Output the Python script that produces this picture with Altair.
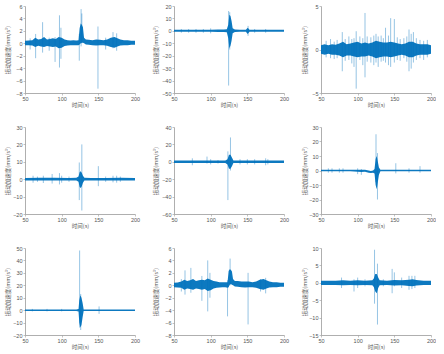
import altair as alt
import pandas as pd

BLUE = "#0072BD"
XLABEL = "时间(s)"
YLABEL = "振动加速度(mm/s²)"

# ---------- Panel 1 ----------
p1_t = [50,55,60,64,68,72,76,80,84,88,92,96,100,104,108,112,116,120,123,124.5,126,127.5,129,130.5,133,137,142,147,152,157,162,167,172,176,180,185,190,195,200]
p1_hi = [0.4,0.45,0.5,0.9,0.6,0.7,1.0,0.6,0.7,0.8,0.7,1.0,0.9,0.6,0.5,0.45,0.5,0.45,0.5,2.4,3.2,3.0,2.6,0.9,0.6,0.55,0.5,0.6,0.55,0.5,0.6,0.9,1.0,0.8,0.6,0.5,0.5,0.4,0.4]
p1_lo = [-0.3,-0.3,-0.35,-0.6,-0.4,-0.5,-0.6,-0.45,-0.5,-0.6,-0.5,-0.8,-0.7,-0.45,-0.35,-0.3,-0.3,-0.3,-0.3,-0.2,0.0,0.1,0.1,0.0,-0.2,-0.25,-0.3,-0.35,-0.3,-0.3,-0.4,-0.6,-0.7,-0.5,-0.35,-0.3,-0.3,-0.25,-0.25]
p1_st = [57,64.5,74,83,91,97,99,124,126.5,127.5,149.5,160,170,175]
p1_shi = [0.8,1.5,3.4,0.9,1.0,4.5,2.5,1.5,5.5,4.8,2.7,0.9,1.8,1.6]
p1_slo = [-1.0,-2.4,-1.5,-1.2,-3.0,-3.9,-2.5,-2.8,-0.5,0.0,-7.3,-1.0,-0.8,-1.2]

# ---------- Panel 2 ----------
p2_t = [50,60,70,80,90,100,110,118,122,124,125.5,127,128.5,130,133,140,148,150.5,153,160,170,180,190,200]
p2_hi = [0.8,0.8,0.8,0.8,0.8,0.8,1.0,1.0,1.2,5,13,12,8,2,1,0.8,0.8,2.5,0.8,0.8,0.8,0.8,0.8,0.8]
p2_lo = [-0.8,-0.8,-0.8,-0.8,-0.8,-0.8,-1.0,-1.0,-1.2,-6,-14,-12,-8,-2,-1,-0.8,-0.8,-2.5,-0.8,-0.8,-0.8,-0.8,-0.8,-0.8]
p2_st = [60,70,80,90,100,124.5,126,151,160,175]
p2_shi = [1.5,1.5,1.5,1.5,2,16,15,4,1.5,1.5]
p2_slo = [-1.5,-1.5,-1.5,-1.5,-2,-44,-15,-4,-1.5,-1.5]

# ---------- Panel 3 ----------
p3_t = [50,55,60,65,70,75,80,85,90,95,100,105,110,115,120,125,130,135,140,145,150,155,160,165,170,175,180,185,190,195,200]
p3_hi = [0.5,0.6,0.5,0.6,0.55,0.7,0.9,0.6,0.7,0.8,0.9,0.7,0.8,0.7,0.8,1.0,0.9,0.8,0.8,0.9,0.8,0.7,0.6,0.7,0.9,0.9,0.7,0.6,0.6,0.6,0.5]
p3_lo = [-0.5,-0.6,-0.5,-0.6,-0.6,-0.7,-0.9,-0.7,-0.7,-0.8,-0.9,-0.8,-0.8,-0.7,-0.8,-1.0,-0.9,-0.8,-0.8,-0.9,-0.8,-0.7,-0.6,-0.7,-0.9,-0.9,-0.7,-0.6,-0.6,-0.6,-0.5]
p3_st = [57,63,68,72,79,83,88,92,95,98,103,107,110,113,118,122,125,128,132,135,138,142,145,150,154,158,163,167,170,173,176,180,185,190,195]
p3_shi = [1.0,1.2,0.9,1.1,2.0,1.2,1.5,1.2,1.3,2.1,1.5,1.3,4.2,1.5,1.4,1.6,1.8,1.5,1.6,1.3,2.5,1.6,3.6,3.5,1.4,1.2,1.3,1.5,2.3,1.8,2.0,1.3,1.1,1.0,1.1]
p3_slo = [-0.9,-1.0,-1.1,-1.0,-2.5,-1.3,-1.2,-1.6,-2.0,-4.5,-1.2,-1.8,-3.2,-1.4,-1.5,-1.8,-1.5,-2.0,-1.4,-1.3,-1.5,-1.8,-2.0,-1.5,-1.2,-1.3,-1.0,-1.4,-2.5,-2.2,-1.5,-1.2,-1.0,-1.2,-0.9]

# ---------- Panel 4 ----------
p4_t = [50,70,90,110,120,123,124.5,126,127.5,129,131,140,160,180,200]
p4_hi = [0.7,0.8,0.8,0.7,0.8,1.5,4,4.5,3.5,2,0.8,0.7,0.7,0.8,0.7]
p4_lo = [-0.7,-0.8,-0.8,-0.7,-0.8,-1.5,-4.5,-5,-4,-2,-0.8,-0.7,-0.7,-0.8,-0.7]
p4_st = [61,67,75,87,97,100,110,124,127.5,150,160,170,175,180]
p4_shi = [2,1.5,2,3,3.5,2,1.5,9.6,20,7.5,1.5,2,2,1.5]
p4_slo = [-2,-1.5,-2.2,-2.5,-3,-2,-1.5,-12,-18,-4,-1.5,-1.8,-2,-1.5]

# ---------- Panel 5 ----------
p5_t = [50,70,90,110,120,123,125,127,129,131,140,160,180,200]
p5_hi = [1.5,1.5,1.5,1.5,1.5,3,8,8,5,1.5,1.5,1.5,1.5,1.5]
p5_lo = [-1.5,-1.5,-1.5,-1.5,-1.5,-3,-8,-8,-5,-1.5,-1.5,-1.5,-1.5,-1.5]
p5_st = [75,95,100,110,123.5,127,140,150,160,175,178]
p5_shi = [4,6,3,2,12,28,3,3,3,4,3]
p5_slo = [-4,-2,-3,-2,-44,-10,-3,-3,-3,-4,-3]

# ---------- Panel 6 ----------
p6_t = [50,60,70,80,90,100,105,110,115,118,121,123,124.5,126,127.5,129,131,140,150,160,170,180,190,200]
p6_hi = [0.6,0.6,0.6,0.6,0.6,0.6,0.6,0.5,0,-0.3,0,1,8,10,6,2,0.6,0.6,0.6,0.6,0.6,0.6,0.6,0.6]
p6_lo = [-0.6,-0.6,-0.6,-0.6,-0.6,-0.8,-1,-0.8,-1.5,-1.8,-1.5,-2,-10,-13,-8,-3,-0.6,-0.6,-0.6,-0.6,-0.6,-0.6,-0.6,-0.6]
p6_st = [60,65,75,80,100,105,125,127,152,170,185]
p6_shi = [1.5,1.5,1.5,1.5,1.5,1,25,12,5,1.5,3]
p6_slo = [-1.5,-1.5,-1.5,-1.5,-2.5,-3,-8,-20,-2,-1.5,-1.5]

# ---------- Panel 7 ----------
p7_t = [50,70,90,110,120,123,124,125.5,127,128.5,130,140,160,180,200]
p7_hi = [0.6,0.6,0.6,0.6,0.6,1,8,12,10,6,0.6,0.6,0.6,0.6,0.6]
p7_lo = [-0.6,-0.6,-0.6,-0.6,-0.6,-1,-10,-14,-12,-6,-0.6,-0.6,-0.6,-0.6,-0.6]
p7_st = [60,80,100,124.5,126,151]
p7_shi = [1,1,1,48,13,3]
p7_slo = [-1,-1,-1,-14,-16,-3]

# ---------- Panel 8 ----------
p8_t = [50,55,60,64,68,72,76,80,84,88,92,96,100,104,108,112,116,120,123,124.5,126,127.5,129,130.5,133,137,142,147,152,157,162,167,172,176,180,185,190,195,200]
p8_hi = [0.4,0.45,0.6,0.9,0.7,0.8,1.0,0.7,0.8,0.9,0.8,1.1,0.9,0.7,0.6,0.5,0.5,0.5,0.5,2.3,2.6,2.5,2.2,1.0,0.7,0.7,0.6,0.6,0.6,0.5,0.6,0.9,1.0,0.8,0.6,0.5,0.5,0.4,0.4]
p8_lo = [-0.3,-0.35,-0.4,-0.7,-0.5,-0.6,-0.7,-0.5,-0.6,-0.7,-0.6,-0.9,-0.8,-0.5,-0.4,-0.35,-0.3,-0.3,-0.4,-0.3,0.1,0.2,0.1,0.0,-0.2,-0.25,-0.3,-0.35,-0.3,-0.3,-0.4,-0.6,-0.7,-0.5,-0.35,-0.3,-0.3,-0.25,-0.25]
p8_st = [60,65,73,88,96,99,123,126.5,151,168,175]
p8_shi = [1,2.4,2.8,1.5,4,2,0.8,4.3,2,1,1.2]
p8_slo = [-1,-1.5,-1.2,-2.5,-4.2,-2,-5,0,-6.3,-1,-1.3]

# ---------- Panel 9 ----------
p9_t = [50,60,70,80,90,100,110,120,122,124,126,128,130,140,150,160,170,175,180,190,200]
p9_hi = [0.6,0.6,0.6,0.7,0.6,0.7,0.6,0.7,1.2,2.5,2.5,1.5,0.7,0.6,0.8,0.7,0.9,1.0,0.8,0.6,0.6]
p9_lo = [-0.6,-0.6,-0.6,-0.7,-0.6,-0.7,-0.6,-0.7,-1.2,-2.5,-3.0,-1.5,-0.7,-0.6,-0.8,-0.7,-0.9,-1.0,-0.8,-0.6,-0.6]
p9_st = [78,95,100,110,123,127,135,147,150,160,170,174,178]
p9_shi = [1.5,1,1.5,1,9.5,5.5,1,4,3,1.5,2,2,2]
p9_slo = [-1.5,-2.5,-1.5,-1,-6,-12,-1,-3,-1,-1.5,-2,-1.8,-1.5]

x_ticks = [50, 100, 150, 200]
panels = [
    (p1_t, p1_hi, p1_lo, p1_st, p1_shi, p1_slo, [-8, 6], [-8,-6,-4,-2,0,2,4,6]),
    (p2_t, p2_hi, p2_lo, p2_st, p2_shi, p2_slo, [-50, 20], [-50,-40,-30,-20,-10,0,10,20]),
    (p3_t, p3_hi, p3_lo, p3_st, p3_shi, p3_slo, [-5, 5], [-5,0,5]),
    (p4_t, p4_hi, p4_lo, p4_st, p4_shi, p4_slo, [-20, 30], [-20,-10,0,10,20,30]),
    (p5_t, p5_hi, p5_lo, p5_st, p5_shi, p5_slo, [-60, 40], [-60,-40,-20,0,20,40]),
    (p6_t, p6_hi, p6_lo, p6_st, p6_shi, p6_slo, [-30, 30], [-30,-20,-10,0,10,20,30]),
    (p7_t, p7_hi, p7_lo, p7_st, p7_shi, p7_slo, [-20, 50], [-20,-10,0,10,20,30,40,50]),
    (p8_t, p8_hi, p8_lo, p8_st, p8_shi, p8_slo, [-8, 6], [-8,-6,-4,-2,0,2,4,6]),
    (p9_t, p9_hi, p9_lo, p9_st, p9_shi, p9_slo, [-15, 10], [-15,-10,-5,0,5,10]),
]
col_extent = [14, 15, 13]

charts = []
for i, (t, hi, lo, st, shi, slo, dom, yt) in enumerate(panels):
    band = pd.DataFrame({"t": t, "hi": hi, "lo": lo})
    spk = pd.DataFrame({"t": st, "hi": shi, "lo": slo})
    ext = col_extent[i % 3]
    xenc = alt.X("t:Q", scale=alt.Scale(domain=[50, 200], nice=False, zero=False),
                 axis=alt.Axis(values=x_ticks, title=XLABEL, format="d",
                               labelOverlap=False, labelFlush=False))
    yenc = alt.Y("hi:Q", scale=alt.Scale(domain=dom, nice=False, zero=False),
                 axis=alt.Axis(values=yt, title=YLABEL, format="d", minExtent=ext, maxExtent=ext,
                               labelOverlap=False, labelFlush=False))
    area = alt.Chart(band).mark_area(color=BLUE, clip=True, opacity=0.95).encode(
        x=xenc, y=yenc, y2="lo:Q")
    rule = alt.Chart(spk).mark_rule(color=BLUE, strokeWidth=0.7, opacity=0.6, clip=True).encode(
        x=xenc, y=yenc, y2="lo:Q")
    charts.append(alt.layer(area, rule).properties(width=110, height=87))

chart = alt.concat(*charts, columns=3, spacing={"row": 17, "column": 13}).properties(
    padding={"left": 5, "top": 4, "right": 0, "bottom": 0},
    background="white",
).configure_view(stroke=None).configure_axis(
    grid=False,
    domainColor="#9a9a9a",
    domainWidth=0.8,
    tickColor="#9a9a9a",
    tickSize=2,
    tickWidth=0.6,
    labelPadding=1,
    labelFont="Liberation Sans",
    labelFontSize=5.5,
    labelColor="#555555",
    titleFont="Noto Sans CJK SC",
    titleFontSize=5.5,
    titleFontWeight="normal",
    titleColor="#555555",
    titlePadding=1,
    labelOverlap=False,
).configure_axisX(minExtent=8, maxExtent=8)

chart.save("out.html", embed_options={"renderer": "svg", "actions": False})
